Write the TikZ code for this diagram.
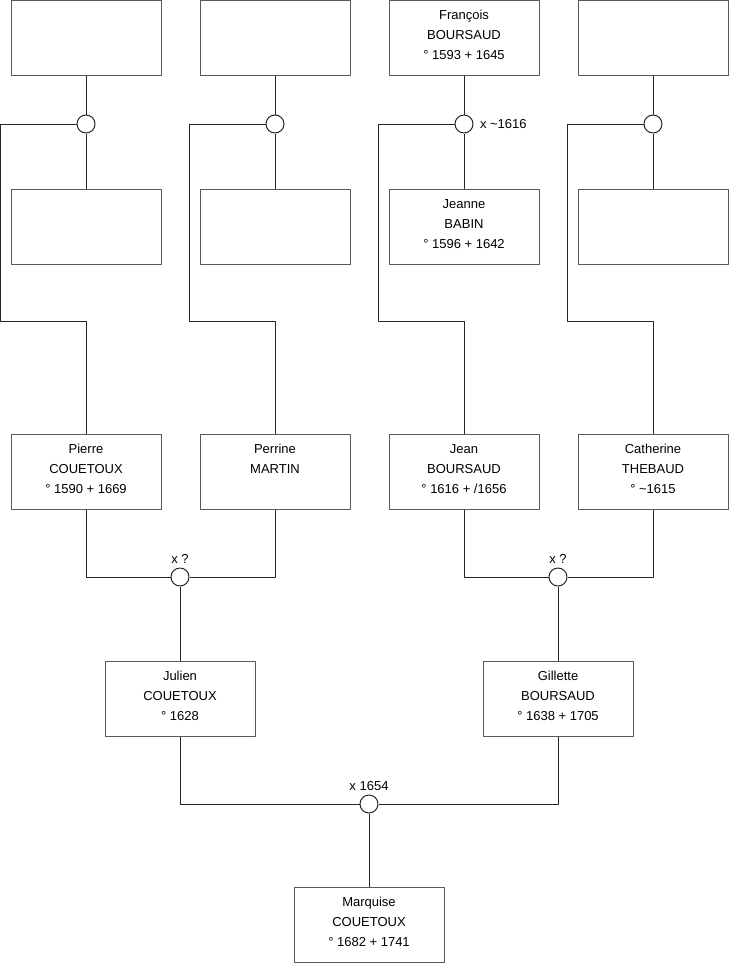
\documentclass[tikz,border=0pt]{standalone}
\usepackage{fontspec}
\setmainfont{Liberation Sans}
\usetikzlibrary{calc}

% text of a person box, set from the top
\newcommand{\person}[1]{\parbox[t][75pt][t]{150pt}{\fontsize{13}{20}\selectfont\centering\vspace*{5pt}\strut #1}}

\tikzset{
  box/.style={draw=black!65, line width=1pt, minimum width=150pt, minimum height=75pt, inner sep=0pt},
  union/.style={circle, draw=black!85, fill=white, line width=1pt, minimum size=18pt, inner sep=0pt},
  link/.style={draw=black!85, line width=1pt},
  marr/.style={label={[font=\fontsize{13}{15}\selectfont, inner sep=4pt]above:#1}}
}

\begin{document}
\begin{tikzpicture}[x=1pt,y=-1pt,line join=round]
	\useasboundingbox (0,0) rectangle (740,975);

	% Top row
	\node[box] (t1) at (86,38)  {};
	\node[box] (t2) at (275,38) {};
	\node[box] (t3) at (464,38) {\person{François\\BOURSAUD\\° 1593 + 1645}};
	\node[box] (t4) at (653,38) {};

	% Unions of the top row
	\node[union] (u1) at (86,124)  {};
	\node[union] (u2) at (275,124) {};
	\node[union] (u3) at (464,124) {};
	\node[union] (u4) at (653,124) {};
	\node[right, font=\fontsize{13}{15}\selectfont, xshift=3pt] (d3) at (u3.east) {x \textasciitilde1616};

	% Second row
	\node[box] (s1) at (86,227)  {};
	\node[box] (s2) at (275,227) {};
	\node[box] (s3) at (464,227) {\person{Jeanne\\BABIN\\° 1596 + 1642}};
	\node[box] (s4) at (653,227) {};

	% Third row
	\node[box] (p1) at (86,472)  {\person{Pierre\\COUETOUX\\° 1590 + 1669}};
	\node[box] (p2) at (275,472) {\person{Perrine\\MARTIN}};
	\node[box] (p3) at (464,472) {\person{Jean\\BOURSAUD\\° 1616 + /1656}};
	\node[box] (p4) at (653,472) {\person{Catherine\\THEBAUD\\° \textasciitilde1615}};

	\node[union, marr={x ?}] (u5) at (180,577) {};
	\node[union, marr={x ?}] (u6) at (558,577) {};

	% Fourth row
	\node[box] (g1) at (180,699) {\person{Julien\\COUETOUX\\° 1628}};
	\node[box] (g2) at (558,699) {\person{Gillette\\BOURSAUD\\° 1638 + 1705}};

	\node[union, marr={x 1654}] (u7) at (369,804) {};

	% Bottom
	\node[box] (m) at (369,925) {\person{Marquise\\COUETOUX\\° 1682 + 1741}};

	% Links
	\foreach \i in {1,...,4}{
		\draw[link] (t\i) -- (u\i) -- (s\i);
		\draw[link] (u\i.west) -| ++(-76,197) -| (p\i);
	}
	\draw[link] (p1) |- (u5) -| (p2);
	\draw[link] (p3) |- (u6) -| (p4);
	\draw[link] (u5) -- (g1);
	\draw[link] (u6) -- (g2);
	\draw[link] (g1) |- (u7) -| (g2);
	\draw[link] (u7) -- (m);
\end{tikzpicture}
\end{document}
